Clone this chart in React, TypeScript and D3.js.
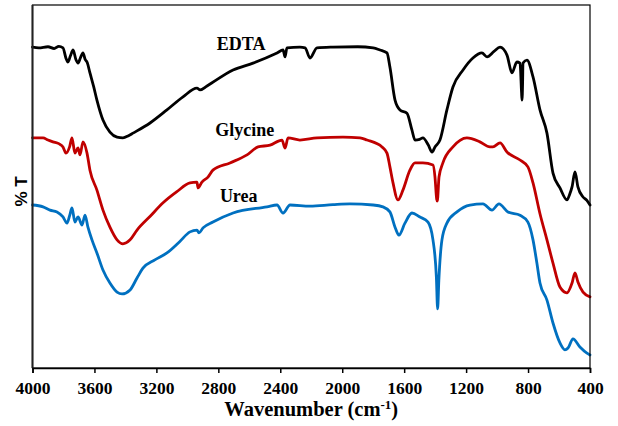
import React, { useEffect, useRef } from 'react';
import * as d3 from 'd3';

// [wavenumber (cm-1), %T]
const edta: [number, number][] = [
  [4000, 88.4], [3960, 88.2], [3900, 88.5], [3860, 88.0], [3830, 88.6], [3803, 88.2],
  [3785, 85.5], [3771, 84.3], [3755, 86.0], [3738, 87.6], [3720, 85.0], [3706, 84.0],
  [3690, 85.5], [3674, 86.8], [3660, 85.0], [3648, 84.3], [3629, 81.3], [3605, 77.5],
  [3584, 73.8], [3545, 68.3], [3500, 65.0], [3454, 63.6], [3416, 63.4], [3380, 64.0],
  [3351, 64.7], [3241, 67.5], [3132, 71.1], [3028, 74.7], [2938, 77.1], [2918, 76.6],
  [2873, 77.7], [2705, 82.1], [2576, 84.0], [2421, 86.8], [2382, 87.6], [2369, 85.7],
  [2357, 88.2], [2273, 88.4], [2240, 88.2], [2208, 85.4], [2163, 88.2], [2060, 88.4],
  [1900, 88.5], [1800, 88.2], [1756, 87.6], [1711, 86.8], [1692, 82.9], [1659, 73.8],
  [1627, 71.1], [1582, 70.2], [1550, 65.6], [1530, 62.8], [1500, 63.0], [1479, 63.4],
  [1445, 61.5], [1420, 59.5], [1401, 60.9], [1369, 62.8], [1324, 71.1], [1285, 77.4],
  [1220, 82.1], [1156, 85.4], [1098, 86.8], [1065, 85.7], [1020, 87.2], [981, 88.4],
  [936, 86.2], [904, 81.3], [872, 84.3], [852, 84.0], [842, 76.0], [839, 73.8],
  [835, 79.0], [833, 84.0], [807, 84.8], [768, 80.2], [723, 71.1], [678, 64.7],
  [639, 53.7], [594, 49.6], [549, 46.3], [530, 48.0], [516, 49.9], [497, 54.0],
  [478, 49.9], [445, 47.1], [420, 46.2], [400, 44.9],
];

const glycine: [number, number][] = [
  [4000, 63.4], [3932, 63.4], [3900, 62.8], [3868, 62.3], [3830, 61.8], [3803, 60.9],
  [3784, 59.2], [3760, 61.0], [3745, 63.4], [3726, 59.2], [3706, 60.6], [3693, 58.7],
  [3674, 62.3], [3648, 59.2], [3629, 54.5], [3584, 49.0], [3545, 43.5], [3500, 38.8],
  [3454, 35.3], [3416, 34.2], [3370, 35.3], [3325, 38.0], [3240, 41.8], [3157, 45.5],
  [3070, 48.5], [2983, 51.0], [2938, 51.2], [2931, 49.6], [2906, 51.2], [2867, 52.6],
  [2835, 54.5], [2725, 56.5], [2615, 58.7], [2544, 60.9], [2466, 61.4], [2389, 62.8],
  [2369, 60.6], [2350, 63.4], [2273, 62.8], [2163, 63.4], [1995, 63.6], [1885, 63.4],
  [1840, 62.8], [1743, 60.9], [1711, 59.2], [1692, 55.4], [1672, 51.0], [1640, 46.3],
  [1608, 49.0], [1563, 54.5], [1530, 56.5], [1479, 56.5], [1414, 55.9], [1401, 52.6],
  [1390, 46.5], [1386, 46.0], [1375, 52.6], [1350, 56.5], [1285, 60.9], [1195, 63.4],
  [1111, 62.3], [1046, 60.9], [1027, 60.9], [981, 62.0], [936, 59.5], [852, 57.3],
  [801, 55.4], [768, 51.0], [723, 42.5], [678, 35.3], [639, 28.9], [594, 22.3],
  [549, 20.7], [516, 23.4], [497, 26.2], [478, 23.7], [445, 20.9], [400, 19.6],
];

const urea: [number, number][] = [
  [4000, 44.9], [3932, 44.4], [3887, 43.5], [3842, 43.0], [3803, 41.6], [3777, 39.9],
  [3760, 42.0], [3745, 44.1], [3726, 40.2], [3706, 41.6], [3680, 39.4], [3661, 42.1],
  [3642, 38.8], [3616, 35.3], [3584, 31.7], [3545, 27.0], [3500, 23.4], [3454, 20.9],
  [3422, 20.4], [3370, 21.5], [3325, 24.8], [3287, 27.5], [3210, 29.8], [3132, 31.7],
  [3050, 34.8], [2983, 37.5], [2938, 38.0], [2925, 37.2], [2899, 38.6], [2835, 40.2],
  [2705, 42.7], [2486, 44.4], [2421, 44.9], [2382, 42.7], [2337, 44.9], [2208, 44.6],
  [2060, 45.0], [1950, 45.2], [1800, 44.9], [1737, 44.4], [1692, 43.0], [1659, 38.8],
  [1634, 36.6], [1595, 39.9], [1550, 42.7], [1498, 41.6], [1446, 40.2], [1414, 35.3],
  [1392, 25.0], [1384, 16.3], [1376, 24.2], [1356, 35.3], [1324, 39.9], [1259, 43.0],
  [1175, 44.9], [1091, 45.2], [1033, 43.5], [988, 45.2], [930, 43.0], [852, 42.1],
  [801, 40.2], [768, 35.3], [743, 28.9], [723, 23.4], [678, 18.7], [639, 12.4],
  [594, 6.9], [562, 5.0], [542, 5.5], [510, 8.0], [465, 5.8], [420, 4.1], [400, 3.6],
];

const xTicks = [4000, 3600, 3200, 2800, 2400, 2000, 1600, 1200, 800, 400];

const seriesNames = ['EDTA', 'Glycine', 'Urea'];
const seriesColors = ['#000000', '#C00000', '#0070C0'];
// where each name sits on the plot (wavenumber, %T)
const labelWn = [2810, 2820, 2790];
const labelT = [87.5, 64.0, 45.7];

const W = 618;
const H = 426;

export default function App() {
  const ref = useRef<SVGSVGElement>(null);

  useEffect(() => {
    const svg = d3.select(ref.current);
    svg.selectAll('*').remove();

    const margin = { top: 5, right: 28, bottom: 58, left: 32.5 };
    const width = W - margin.left - margin.right;
    const height = H - margin.top - margin.bottom;

    const x = d3.scaleLinear().domain([4000, 400]).range([0, width]);
    const y = d3.scaleLinear().domain([0, 100]).range([height, 0]);

    const g = svg.append('g')
      .attr('transform', 'translate(' + margin.left + ',' + margin.top + ')');

    const line = d3.line<[number, number]>()
      .x(d => x(d[0]))
      .y(d => y(d[1]))
      .curve(d3.curveMonotoneX);

    [edta, glycine, urea].forEach((data, i) => {
      g.append('path')
        .datum(data)
        .attr('fill', 'none')
        .attr('stroke', seriesColors[i])
        .attr('stroke-width', 2.8)
        .attr('stroke-linejoin', 'round')
        .attr('stroke-linecap', 'round')
        .attr('d', line);

      g.append('text')
        .attr('x', x(labelWn[i]))
        .attr('y', y(labelT[i]))
        .attr('font-family', '"Liberation Serif", "Times New Roman", serif')
        .attr('font-weight', 'bold')
        .attr('font-size', 18)
        .attr('fill', '#000')
        .text(seriesNames[i]);
    });

    // frame
    g.append('rect')
      .attr('x', 0).attr('y', 0)
      .attr('width', width).attr('height', height)
      .attr('fill', 'none')
      .attr('stroke', '#000')
      .attr('stroke-width', 1.2);
    g.append('line')
      .attr('x1', 0).attr('x2', 0).attr('y1', 0).attr('y2', height)
      .attr('stroke', '#222').attr('stroke-width', 2);

    const xAxis = g.append('g')
      .attr('transform', 'translate(0,' + height + ')')
      .call(d3.axisBottom(x).tickValues(xTicks).tickSize(5).tickPadding(9).tickFormat(d3.format('d')));
    xAxis.select('.domain').attr('stroke', '#000').attr('stroke-width', 1.5);
    xAxis.selectAll('.tick line').attr('stroke', '#000').attr('stroke-width', 1.5);
    xAxis.selectAll('.tick text')
      .attr('font-family', '"Liberation Serif", "Times New Roman", serif')
      .attr('font-weight', 'bold')
      .attr('font-size', 17.5)
      .attr('fill', '#000');

    const title = svg.append('text')
      .attr('x', margin.left + width / 2)
      .attr('y', 416)
      .attr('text-anchor', 'middle')
      .attr('font-family', '"Liberation Serif", "Times New Roman", serif')
      .attr('font-weight', 'bold')
      .attr('font-size', 20.5)
      .attr('fill', '#000');
    title.append('tspan').text('Wavenumber (cm');
    title.append('tspan').attr('font-size', 13).attr('dy', -7).text('-1');
    title.append('tspan').attr('dy', 7).text(')');

    svg.append('text')
      .attr('transform', 'translate(27,' + (margin.top + height / 2 + 5) + ') rotate(-90)')
      .attr('text-anchor', 'middle')
      .attr('font-family', '"Liberation Sans", Arial, sans-serif')
      .attr('font-weight', 'bold')
      .attr('font-size', 17)
      .attr('fill', '#000')
      .text('% T');
  }, []);

  return (
    <svg
      ref={ref}
      width={W}
      height={H}
      style={{ position: 'absolute', left: 0, top: 0, background: '#fff' }}
    />
  );
}
